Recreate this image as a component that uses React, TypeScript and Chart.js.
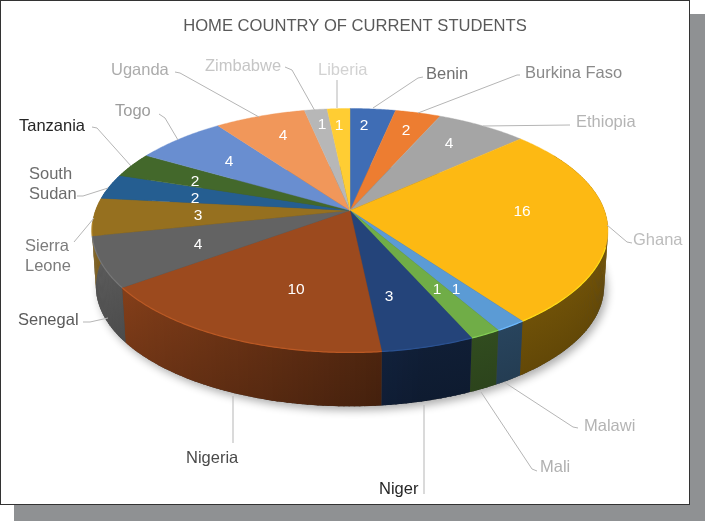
import React, { useEffect, useRef } from "react";
import { Chart, registerables } from "chart.js";

Chart.register(...registerables);

const countries = ["Benin", "Burkina Faso", "Ethiopia", "Ghana", "Malawi", "Mali", "Niger", "Nigeria", "Senegal", "Sierra Leone", "South Sudan", "Tanzania", "Togo", "Uganda", "Zimbabwe", "Liberia"];
const students = [2, 2, 4, 16, 1, 1, 3, 10, 4, 3, 2, 2, 4, 4, 1, 1];
const sliceColors = ["#3F6DB5", "#ED7D31", "#A5A5A5", "#FDB913", "#5B9BD5", "#70AD47", "#24447A", "#9C4A1E", "#636363", "#96701F", "#255E91", "#43682B", "#698ED0", "#F1975A", "#B7B7B7", "#FFCD33"];

// label placement, same order as countries: [x, y of each line centre], then text colour
const labelLines = [["Benin"], ["Burkina Faso"], ["Ethiopia"], ["Ghana"], ["Malawi"], ["Mali"], ["Niger"], ["Nigeria"], ["Senegal"], ["Sierra", "Leone"], ["South", "Sudan"], ["Tanzania"], ["Togo"], ["Uganda"], ["Zimbabwe"], ["Liberia"]];
const labelSpots = [[426, 74], [525, 73], [576, 122], [633, 240], [584, 426], [540, 467], [379, 489], [186, 458], [18, 320], [25, 246], [29, 174], [19, 126], [115, 111], [111, 70], [205, 66], [318, 70]];
const labelColors = ["#707070", "#8a8a8a", "#b4b4b4", "#bcbcbc", "#b4b4b4", "#b0b0b0", "#262626", "#4a4a4a", "#5a5a5a", "#7c7c7c", "#6c6c6c", "#262626", "#9c9c9c", "#acacac", "#c6c6c6", "#d2d2d2"];
const leaders = [
  [[373, 108], [418, 78], [423, 77]],
  [[418, 113], [517, 75], [520, 75]],
  [[483, 126], [570, 125]],
  [[607, 225], [627, 242], [632, 243]],
  [[504, 382], [573, 427], [578, 428]],
  [[481, 392], [532, 469], [537, 471]],
  [[424, 405], [424, 494]],
  [[233, 396], [233, 443]],
  [[108, 318], [90, 322], [83, 322]],
  [[94, 218], [74, 242]],
  [[108, 188], [83, 196], [77, 196]],
  [[131, 166], [97, 128], [92, 127]],
  [[178, 140], [165, 118], [159, 114]],
  [[259, 117], [180, 73], [175, 72]],
  [[315, 111], [292, 70], [285, 67]],
  [[337, 108], [337, 80]],
];
const valueSpots = [[364, 126], [406, 131], [449, 144], [522, 212], [456, 290], [437, 290], [389, 297], [296, 290], [198, 245], [198, 216], [195, 199], [195, 182], [229, 162], [283, 136], [322, 125], [339, 126]];

// perspective of the disc
const TILT = 0.164;
const SCALE_X = 254.5;
const SCALE_Y = 118.7;
const BOTTOM_SHRINK = 0.985;
const BOTTOM_DROP = 56;
const SHIFT_X = -5;

const shade = (hex: string, f: number) => {
  const n = parseInt(hex.slice(1), 16);
  const c = [(n >> 16) & 255, (n >> 8) & 255, n & 255].map((v) => Math.min(255, Math.round(v * f)));
  return `rgb(${c[0]},${c[1]},${c[2]})`;
};

const tiltedPie = {
  id: "tiltedPie",
  beforeDatasetsDraw(chart: any) {
    const ctx = chart.ctx;
    const arcs = chart.getDatasetMeta(0).data;
    const cx = arcs[0].x + SHIFT_X;
    const cy = arcs[0].y + 0.5;
    const step = Math.PI / 180;

    const top = (t: number) => {
      const w = 1 - TILT * Math.sin(t);
      return [cx + (SCALE_X * Math.cos(t)) / w, cy + (SCALE_Y * Math.sin(t)) / w];
    };
    const bottom = (t: number) => {
      const w = 1 - TILT * Math.sin(t);
      return [cx + (BOTTOM_SHRINK * SCALE_X * Math.cos(t)) / w, cy + BOTTOM_DROP + (BOTTOM_SHRINK * SCALE_Y * Math.sin(t)) / w];
    };

    // soft shadow under the disc
    ctx.save();
    ctx.shadowColor = "rgba(0,0,0,0.32)";
    ctx.shadowBlur = 9;
    ctx.shadowOffsetX = 3;
    ctx.shadowOffsetY = 4;
    ctx.fillStyle = "#444";
    ctx.beginPath();
    for (let d = 0; d < 360; d++) {
      const p = bottom(d * step);
      ctx.lineTo(p[0], p[1]);
    }
    ctx.closePath();
    ctx.fill();
    ctx.restore();

    // side wall, in thin strips so the shade can follow the angle
    arcs.forEach((arc: any, i: number) => {
      for (let t = arc.startAngle; t < arc.endAngle - 1e-6; t += step) {
        const deg = ((t + Math.PI / 2) * 180) / Math.PI;
        if (deg < 60 || deg > 300) continue;
        const end = Math.min(t + step * 1.3, arc.endAngle);
        const a = top(t);
        const b = top(end);
        const c = bottom(end);
        const d = bottom(t);
        const f = Math.max(0.42, Math.min(0.9, 0.42 + ((deg - 165) / 75) * 0.43));
        const grad = ctx.createLinearGradient(a[0], a[1], d[0], d[1]);
        grad.addColorStop(0, shade(sliceColors[i], f * 1.04));
        grad.addColorStop(1, shade(sliceColors[i], f * 0.93));
        ctx.fillStyle = grad;
        ctx.beginPath();
        ctx.moveTo(a[0], a[1]);
        ctx.lineTo(b[0], b[1]);
        ctx.lineTo(c[0], c[1]);
        ctx.lineTo(d[0], d[1]);
        ctx.closePath();
        ctx.fill();
      }
    });

    // top face
    arcs.forEach((arc: any, i: number) => {
      ctx.beginPath();
      ctx.moveTo(cx, cy);
      for (let t = arc.startAngle; t < arc.endAngle; t += step / 2) {
        const p = top(t);
        ctx.lineTo(p[0], p[1]);
      }
      const last = top(arc.endAngle);
      ctx.lineTo(last[0], last[1]);
      ctx.closePath();
      ctx.fillStyle = sliceColors[i];
      ctx.fill();
      ctx.strokeStyle = sliceColors[i];
      ctx.lineWidth = 0.4;
      ctx.stroke();
    });

    // lighter bevel along the front rim
    arcs.forEach((arc: any, i: number) => {
      const from = Math.max(arc.startAngle, 0.3);
      const to = Math.min(arc.endAngle, Math.PI - 0.1);
      if (from >= to) return;
      ctx.beginPath();
      for (let t = from; t < to; t += step / 2) {
        const p = top(t);
        ctx.lineTo(p[0], p[1]);
      }
      const q = top(to);
      ctx.lineTo(q[0], q[1]);
      ctx.strokeStyle = shade(sliceColors[i], 1.2);
      ctx.lineWidth = 1.2;
      ctx.stroke();
    });

    // leader lines and country names
    ctx.lineWidth = 1;
    ctx.strokeStyle = "#b5b5b5";
    leaders.forEach((pts) => {
      ctx.beginPath();
      pts.forEach((p) => ctx.lineTo(p[0], p[1]));
      ctx.stroke();
    });
    ctx.font = "16.5px 'Liberation Sans'";
    ctx.textBaseline = "middle";
    ctx.textAlign = "left";
    countries.forEach((_, i) => {
      ctx.fillStyle = labelColors[i];
      labelLines[i].forEach((line, j) => {
        ctx.fillText(line, labelSpots[i][0], labelSpots[i][1] + j * 20);
      });
    });

    // values on the slices
    ctx.font = "15.5px 'Liberation Sans'";
    ctx.textAlign = "center";
    ctx.fillStyle = "#ffffff";
    students.forEach((v, i) => {
      ctx.fillText(String(v), valueSpots[i][0], valueSpots[i][1]);
    });

    return false;
  },
};

export default function App() {
  const chartRef = useRef<HTMLCanvasElement>(null);

  useEffect(() => {
    document.body.style.margin = "0";
    if (!chartRef.current) return;
    const chart = new Chart(chartRef.current, {
      type: "pie",
      data: {
        labels: countries,
        datasets: [{ data: students, backgroundColor: sliceColors, borderWidth: 0 }],
      },
      options: {
        responsive: false,
        animation: false,
        devicePixelRatio: 1,
        layout: { padding: { left: 20, right: 0, top: 0, bottom: 129 } },
        plugins: {
          legend: { display: false },
          tooltip: { enabled: false },
          title: {
            display: true,
            text: "HOME COUNTRY OF CURRENT STUDENTS",
            color: "#595959",
            font: { family: "'Liberation Sans'", size: 16.6, weight: "normal" },
            padding: { top: 16, bottom: 8 },
          },
        },
      },
      plugins: [tiltedPie],
    } as any);
    return () => chart.destroy();
  }, []);

  return (
    <div style={{ position: "relative", width: 705, height: 521, overflow: "hidden", background: "#fff" }}>
      <div style={{ position: "absolute", left: 14, top: 14, width: 691, height: 507, background: "#8f9193" }} />
      <div style={{ position: "absolute", left: 0, top: 0, width: 690, height: 505, boxSizing: "border-box", background: "#fff", border: "1.5px solid #333" }} />
      <canvas ref={chartRef} width={690} height={505} style={{ position: "absolute", left: 0, top: 0 }} />
    </div>
  );
}
